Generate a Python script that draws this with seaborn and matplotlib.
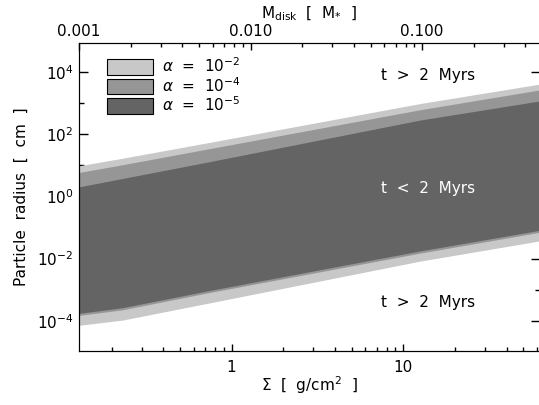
import numpy as np
import pandas as pd
import matplotlib
matplotlib.use("Agg")
import matplotlib.pyplot as plt
from matplotlib.patches import Patch
from matplotlib.ticker import FixedLocator, NullFormatter, FuncFormatter, LogLocator
import seaborn as sns

# surface density grid (g/cm^2) and band limits (cm)
sigma = [0.129, 0.23, 0.75, 12.6, 62.7]
light_top = [9.5, 16.5, 54, 950, 4000]
light_bot = [7.2e-5, 1.05e-4, 3.8e-4, 8.3e-3, 3.7e-2]
med_top = [5.8, 10.2, 34, 600, 2600]
med_bot = [1.5e-4, 2.25e-4, 8.2e-4, 1.5e-2, 7.0e-2]
dark_top = [2.0, 3.7, 13, 280, 1150]
dark_bot = [1.74e-4, 2.63e-4, 9.5e-4, 1.76e-2, 8.1e-2]

alpha_labels = [r"$\alpha$  =  10$^{-2}$", r"$\alpha$  =  10$^{-4}$", r"$\alpha$  =  10$^{-5}$"]
band_colors = ["#c8c8c8", "#969696", "#646464"]
mdisk_per_sigma = 1 / 129.0

sns.set_style("ticks")
plt.rcParams["font.family"] = ["DejaVu Sans"]
plt.rcParams["font.size"] = 11
plt.rcParams["mathtext.fontset"] = "dejavusans"
for k in ["text.color", "axes.labelcolor", "xtick.color", "ytick.color", "axes.edgecolor"]:
    plt.rcParams[k] = "black"

df = pd.DataFrame({"sigma": sigma,
                   "light_top": light_top, "light_bot": light_bot,
                   "med_top": med_top, "med_bot": med_bot,
                   "dark_top": dark_top, "dark_bot": dark_bot})

fig = plt.figure(figsize=(5.39, 4.05), dpi=100)
ax = fig.add_axes([79 / 539, 1 - 350.7 / 405, (540 - 79) / 539, (350.7 - 42.7) / 405])

for key, col in zip(["light", "med", "dark"], band_colors):
    ax.fill_between(df["sigma"], df[key + "_bot"], df[key + "_top"],
                    color=col, linewidth=0)

xlim = (0.129, 62.7)
ax.set_xscale("log")
ax.set_yscale("log")
ax.set_xlim(*xlim)
ax.set_ylim(1.1e-5, 8.5e4)

ax.yaxis.set_major_locator(FixedLocator([1e-4, 1e-2, 1, 1e2, 1e4]))
ax.yaxis.set_minor_locator(FixedLocator([1e-3, 1e-1, 1e1, 1e3]))
ax.yaxis.set_minor_formatter(NullFormatter())
ax.yaxis.set_major_formatter(FuncFormatter(lambda v, p: r"10$^{%d}$" % round(np.log10(v))))
ax.xaxis.set_major_formatter(FuncFormatter(lambda v, p: "%g" % v))
ax.xaxis.set_minor_formatter(NullFormatter())

ax.tick_params(axis="both", which="both", direction="in", width=1.0, top=False)
ax.tick_params(axis="y", which="major", length=6.5, right=True, pad=4)
ax.tick_params(axis="y", which="minor", length=3.6, right=True)
ax.tick_params(axis="x", which="major", length=5, pad=7)
ax.tick_params(axis="x", which="minor", length=2.8)
for sp in ax.spines.values():
    sp.set_linewidth(0.8)

# disk mass axis on top
top = ax.twiny()
top.set_xscale("log")
top.set_xlim(xlim[0] * mdisk_per_sigma, xlim[1] * mdisk_per_sigma)
top.xaxis.set_major_locator(LogLocator(base=10))
top.xaxis.set_major_formatter(FuncFormatter(lambda v, p: "%.3f" % v))
top.xaxis.set_minor_formatter(NullFormatter())
top.tick_params(axis="x", which="both", direction="in", width=1.0, top=True, bottom=False)
top.tick_params(axis="x", which="major", length=5, pad=3)
top.tick_params(axis="x", which="minor", length=2.8)
top.set_xlabel(r"M$_{\rm disk}$  [  M$_{*}$  ]", labelpad=4)

ax.set_xlabel(r"$\Sigma$  [  g/cm$^2$  ]", labelpad=-1)
ax.set_ylabel("Particle  radius  [  cm  ]", labelpad=6)

ax.text(0.757, 0.895, "t  >  2  Myrs", transform=ax.transAxes, ha="center", va="center")
ax.text(0.757, 0.528, "t  <  2  Myrs", transform=ax.transAxes, ha="center", va="center",
        color="white")
ax.text(0.757, 0.158, "t  >  2  Myrs", transform=ax.transAxes, ha="center", va="center")

handles = [Patch(facecolor=c, edgecolor="black", linewidth=0.8) for c in band_colors]
ax.legend(handles, alpha_labels, loc="upper left", bbox_to_anchor=(0.047, 0.975),
          frameon=False, handlelength=3.0, handleheight=1.15, labelspacing=0.05,
          handletextpad=0.6, borderaxespad=0)

fig.savefig("out.png", dpi=100)
